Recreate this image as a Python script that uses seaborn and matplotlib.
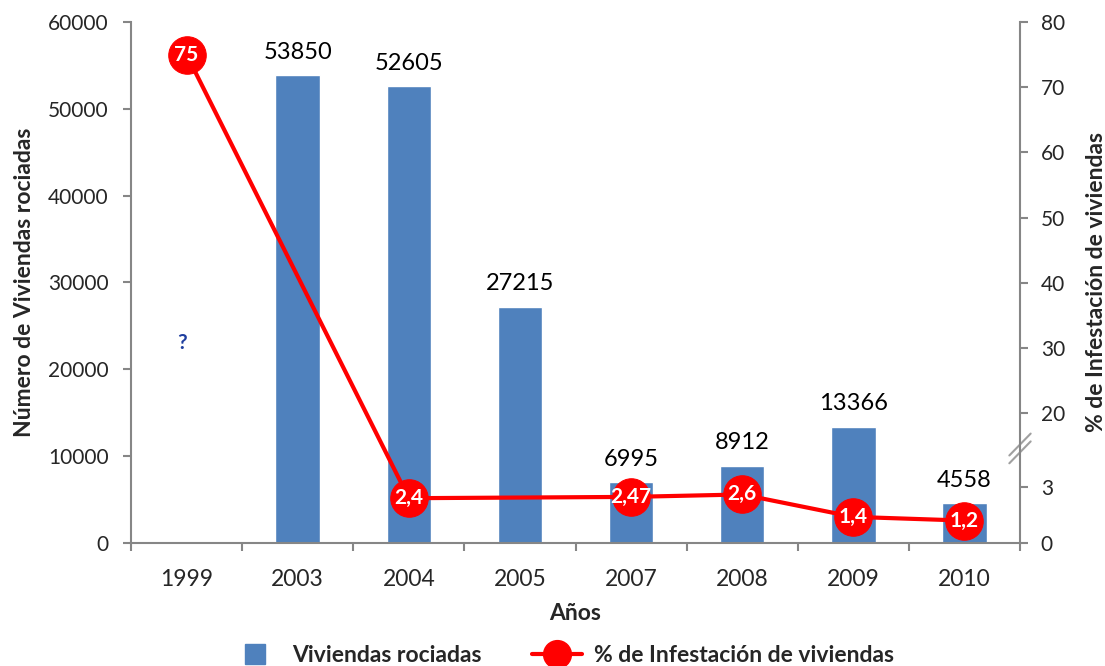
import numpy as np
import pandas as pd
import matplotlib
matplotlib.use("Agg")
import matplotlib.pyplot as plt
from matplotlib.lines import Line2D
import seaborn as sns

# ---- data ----
years = ["1999", "2003", "2004", "2005", "2007", "2008", "2009", "2010"]
viviendas = [np.nan, 53850, 52605, 27215, 6995, 8912, 13366, 4558]
infestacion = [75, np.nan, 2.4, np.nan, 2.47, 2.6, 1.4, 1.2]
infest_labels = ["75", "", "2,4", "", "2,47", "2,6", "1,4", "1,2"]
left_ticks = [0, 10000, 20000, 30000, 40000, 50000, 60000]
right_ticks = [0, 3, 20, 30, 40, 50, 60, 70, 80]
unknown_value = 23000  # position of the "?" for 1999

sns.set_theme(style="white")
plt.rcParams["font.family"] = ["Lato", "DejaVu Sans"]

BLUE = "#4F81BD"
RED = "#FF0000"
GRAY = "#868686"

fig = plt.figure(figsize=(11.05, 6.66), dpi=100)
ax = fig.add_axes([131/1105, 1-543/666, (1020-131)/1105, (543-22)/666])

df = pd.DataFrame({"year": years, "viv": viviendas})
sns.barplot(data=df, x="year", y="viv", order=years, color=BLUE, width=0.4,
            saturation=1, ax=ax, errorbar=None)
ax.set_xlim(-0.5, len(years) - 0.5)
ax.set_ylim(0, 60000)
ax.set_yticks(left_ticks)
ax.set_yticklabels([str(t) for t in left_ticks])

for cont in ax.containers:
    labs = ["" if np.isnan(b.get_height()) else f"{b.get_height():.0f}" for b in cont]
    ax.bar_label(cont, labels=labs, padding=9, fontsize=17, color="black")

ax.text(0, unknown_value, "?", color="#1F3F9F", fontsize=15, fontweight="bold",
        ha="right", va="center")

# axes styling
for s in ["top", "right"]:
    ax.spines[s].set_visible(False)
for s in ["left", "bottom"]:
    ax.spines[s].set_color(GRAY)
    ax.spines[s].set_linewidth(1.5)
ax.tick_params(axis="y", direction="out", length=6, width=1.5, color=GRAY,
               labelsize=15, pad=10, left=True)
ax.set_xticks(range(len(years)))
ax.set_xticks(np.arange(-0.5, len(years), 1.0), minor=True)
ax.tick_params(axis="x", which="major", length=0, labelsize=16.5, pad=19)
ax.tick_params(axis="x", which="minor", direction="out", length=6, width=1.5,
               color=GRAY, bottom=True)
ax.set_xlabel("Años", fontsize=16.5, fontweight="bold")
ax.xaxis.set_label_coords(0.5, -0.115)
ax.set_ylabel("Número de Viviendas rociadas", fontsize=16.5, fontweight="bold")
ax.yaxis.set_label_coords(-0.108, 0.5)

# ---- right broken axis ----
ax2 = ax.twinx()

def fwd(v):
    v = np.asarray(v, dtype=float)
    return np.where(v <= 3, v * (56/3),
                    np.where(v <= 20, 56 + (v - 3) * (74/17),
                             130 + (v - 20) * (391/60)))

def inv(f):
    f = np.asarray(f, dtype=float)
    return np.where(f <= 56, f * (3/56),
                    np.where(f <= 130, 3 + (f - 56) * (17/74),
                             20 + (f - 130) * (60/391)))

ax2.set_yscale("function", functions=(fwd, inv))
ax2.set_ylim(0, 80)
ax2.set_yticks(right_ticks)
ax2.set_yticklabels([str(t) for t in right_ticks])
ax2.yaxis.set_minor_locator(matplotlib.ticker.NullLocator())
for s in ["top", "left", "bottom"]:
    ax2.spines[s].set_visible(False)
ax2.spines["right"].set_color(GRAY)
ax2.spines["right"].set_linewidth(1.5)
ax2.tick_params(axis="y", direction="out", length=6, width=1.5, color=GRAY,
                labelsize=15, pad=9, right=True)
ax2.set_ylabel("% de Infestación de viviendas", fontsize=16.5, fontweight="bold")
ax2.yaxis.set_label_coords(1.074, 0.5)

ldf = pd.DataFrame({"x": np.arange(len(years)), "inf": infestacion}).dropna()
sns.lineplot(data=ldf, x="x", y="inf", ax=ax2, color=RED, linewidth=3,
             marker="o", markersize=27, markeredgecolor=RED, markerfacecolor=RED,
             legend=False, clip_on=False)
ax2.set_xlim(-0.5, len(years) - 0.5)
ax2.set_xlabel("")
for i, (v, lab) in enumerate(zip(infestacion, infest_labels)):
    if not np.isnan(v):
        ax2.text(i, v, lab, color="white", fontsize=15, fontweight="bold",
                 ha="center", va="center")

# break marks on right axis
for dy in (0.0, -0.015):
    ax2.plot([0.988, 1.012], [0.168 + dy, 0.210 + dy], transform=ax2.transAxes,
             color="#A0A0A0", lw=1.5, clip_on=False)

# ---- legend ----
handles = [Line2D([0], [0], color=BLUE, lw=0, marker="s", markersize=15,
                  markerfacecolor=BLUE, markeredgecolor=BLUE),
           Line2D([0], [0], color=RED, lw=3, marker="o", markersize=20,
                  markerfacecolor=RED, markeredgecolor=RED)]
fig.legend(handles, ["Viviendas rociadas", "% de Infestación de viviendas"],
           loc="center", bbox_to_anchor=(562/1105, 1-656/666), ncol=2,
           frameon=False, prop={"weight": "bold", "size": 16.5},
           handlelength=2.2, columnspacing=2.2, handletextpad=0.5)

fig.savefig("out.png", dpi=100)
